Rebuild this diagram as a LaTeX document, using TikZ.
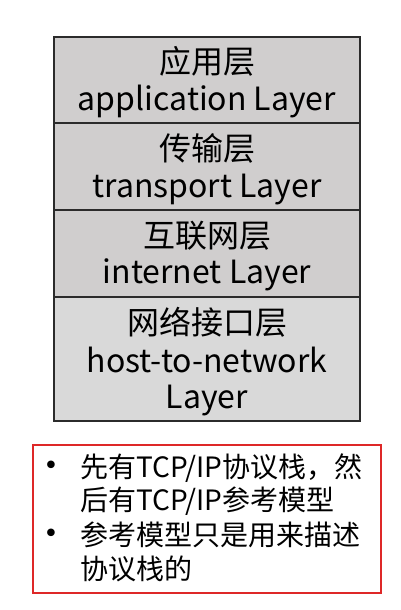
\documentclass[tikz,border=0pt]{standalone}
\usepackage{fontspec}
\setmainfont{Noto Sans CJK SC}
\newfontfamily\dejavu{DejaVu Sans}
\definecolor{cellA}{RGB}{208,206,206}
\definecolor{cellB}{RGB}{217,217,217}
\definecolor{edgeC}{RGB}{43,43,43}
\definecolor{noteRed}{RGB}{222,40,40}
\begin{document}
\begin{tikzpicture}[x=1pt,y=-1pt,
  cell/.style={draw=edgeC,line width=1.3pt},
  layertext/.style={anchor=base,font=\fontsize{32}{36}\selectfont,inner sep=0pt},
  notebox/.style={draw=noteRed,line width=1.2pt},
  notetext/.style={anchor=base west,font=\fontsize{28}{34}\selectfont,inner sep=0pt},
  bulletmark/.style={font=\dejavu\fontsize{26}{30}\selectfont,inner sep=0pt,anchor=center}]
\useasboundingbox (0,0) rectangle (400,610);
\fill[white] (0,0) rectangle (400,610);
\draw[cell,fill=cellA] (54,37) rectangle (360,123);
\draw[cell,fill=cellA] (54,123) rectangle (360,210);
\draw[cell,fill=cellA] (54,210) rectangle (360,297);
\draw[cell,fill=cellB] (54,297) rectangle (360,421);
\node[layertext] (appzh) at (207,74) {应用层};
\node[layertext] (appen) at (207,110) {application Layer};
\node[layertext] (transzh) at (207,160) {传输层};
\node[layertext] (transen) at (207,197) {transport Layer};
\node[layertext] (inetzh) at (207,247) {互联网层};
\node[layertext] (ineten) at (207,283) {internet Layer};
\node[layertext] (hostzh) at (207,334) {网络接口层};
\node[layertext] (hosten) at (207,372) {host-to-network};
\node[layertext] (hostl) at (207,408) {Layer};
\draw[notebox] (33,445) rectangle (381,593);
\node[bulletmark] (b1) at (51,468) {•};
\node[notetext] (t1a) at (80,477) {先有TCP/IP协议栈，然};
\node[notetext] (t1b) at (80,510) {后有TCP/IP参考模型};
\node[bulletmark] (b2) at (51,536) {•};
\node[notetext] (t2a) at (80,545) {参考模型只是用来描述};
\node[notetext] (t2b) at (80,579) {协议栈的};
\end{tikzpicture}
\end{document}
